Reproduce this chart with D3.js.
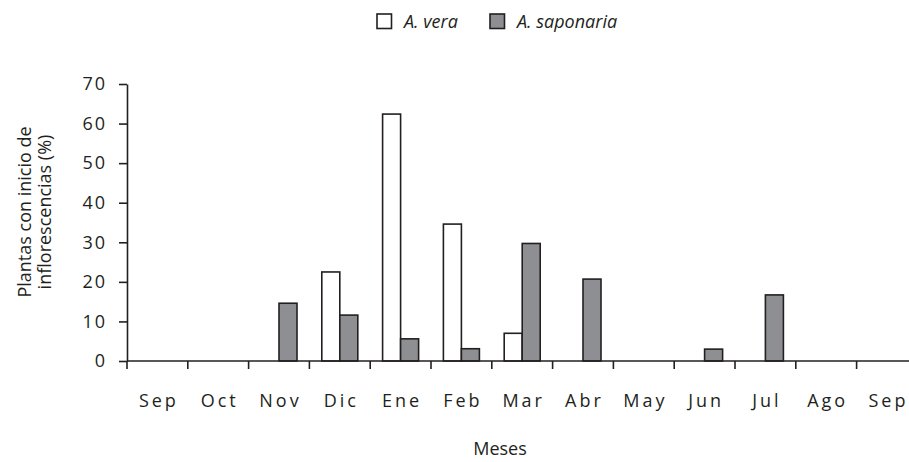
<!DOCTYPE html>
<html>
<head>
<meta charset="utf-8">
<script src="https://cdn.jsdelivr.net/npm/d3@7"></script>
<style>
  body { margin: 0; background: #fff; }
  svg { display: block; font-family: "Open Sans", sans-serif; }
</style>
</head>
<body>
<svg id="chart" width="909" height="462"></svg>
<script>
// data
const months = ["Sep", "Oct", "Nov", "Dic", "Ene", "Feb", "Mar", "Abr", "May", "Jun", "Jul", "Ago", "Sep"];
const vera = [0, 0, 0, 22.5, 62.4, 34.6, 7, 0, 0, 0, 0, 0, 0];
const saponaria = [0, 0, 14.6, 11.6, 5.6, 3.1, 29.7, 20.7, 0, 3, 16.7, 0, 0];
const yTicks = [0, 10, 20, 30, 40, 50, 60, 70];

const svg = d3.select("#chart");
const ink = "#231f20";
const grey = "#8e8f93";

const plotLeft = 127, plotBottom = 361, plotTop = 84;
const x = d3.scaleBand()
    .domain(d3.range(months.length))
    .range([plotLeft, plotLeft + 13 * 60.8])
    .padding(0);
const y = d3.scaleLinear().domain([0, 70]).range([plotBottom, plotTop]);

const barW = 18;

// bars
const g = svg.append("g");
months.forEach(function (m, i) {
    const c = x(i) + x.bandwidth() / 2;
    if (vera[i] > 0) {
        g.append("rect")
            .attr("x", c - barW).attr("y", y(vera[i]))
            .attr("width", barW).attr("height", y(0) - y(vera[i]))
            .attr("fill", "#fff").attr("stroke", ink).attr("stroke-width", 1.6);
    }
    if (saponaria[i] > 0) {
        g.append("rect")
            .attr("x", c).attr("y", y(saponaria[i]))
            .attr("width", barW).attr("height", y(0) - y(saponaria[i]))
            .attr("fill", grey).attr("stroke", ink).attr("stroke-width", 1.6);
    }
});

// y axis
const yAxis = svg.append("g")
    .attr("transform", `translate(${plotLeft},0)`)
    .call(d3.axisLeft(y).tickValues(yTicks).tickSize(8).tickPadding(12).tickSizeOuter(0));
yAxis.select(".domain").attr("stroke", ink).attr("stroke-width", 1.6);
yAxis.selectAll(".tick line").attr("stroke", ink).attr("stroke-width", 1.6);
yAxis.selectAll("text")
    .attr("fill", ink)
    .style("font-family", "'Open Sans', sans-serif")
    .style("font-size", "18px")
    .style("letter-spacing", "2px");

// x axis: ticks on band edges, labels centred in bands
const xAxis = svg.append("g").attr("transform", `translate(0,${plotBottom})`);
xAxis.append("line")
    .attr("x1", plotLeft).attr("x2", 909)
    .attr("stroke", ink).attr("stroke-width", 1.6);
xAxis.selectAll(".xt")
    .data(d3.range(months.length))
    .enter().append("line")
    .attr("x1", d => x(d)).attr("x2", d => x(d))
    .attr("y1", 0).attr("y2", 8)
    .attr("stroke", ink).attr("stroke-width", 1.6);
xAxis.selectAll(".xl")
    .data(months)
    .enter().append("text")
    .attr("x", (d, i) => x(i) + x.bandwidth() / 2 + 1.5)
    .attr("y", 46)
    .attr("text-anchor", "middle")
    .attr("fill", ink)
    .style("font-size", "18px")
    .style("letter-spacing", "3px")
    .text(d => d);

// axis titles
svg.append("text")
    .attr("x", 500).attr("y", 455)
    .attr("text-anchor", "middle")
    .attr("fill", ink)
    .style("font-size", "18px")
    .text("Meses");

const yt = svg.append("text")
    .attr("transform", "translate(0,212) rotate(-90)")
    .attr("text-anchor", "middle")
    .attr("fill", ink)
    .style("font-size", "18px");
yt.append("tspan").attr("x", 0).attr("y", 31).text("Plantas con inicio de");
yt.append("tspan").attr("x", 0).attr("y", 51).text("inflorescencias (%)");

// legend
const legend = [
    { name: "A. vera", fill: "#fff", x: 377 },
    { name: "A. saponaria", fill: grey, x: 490 }
];
legend.forEach(function (l) {
    svg.append("rect")
        .attr("x", l.x).attr("y", 14)
        .attr("width", 14.5).attr("height", 14.5)
        .attr("fill", l.fill).attr("stroke", ink).attr("stroke-width", 1.6);
    svg.append("text")
        .attr("x", l.x + 27).attr("y", 28)
        .attr("fill", ink)
        .style("font-size", "18px")
        .style("font-style", "italic")
        .text(l.name);
});
</script>
</body>
</html>
